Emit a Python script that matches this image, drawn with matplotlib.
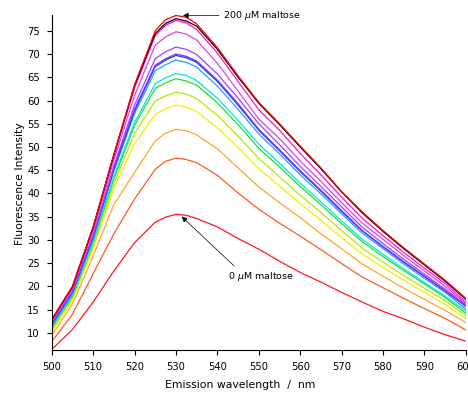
import matplotlib
matplotlib.use("Agg")
import matplotlib.pyplot as plt
import numpy as np

# emission wavelength (nm)
wl = [500, 505, 510, 515, 520, 525, 527.5, 530, 532.5, 535, 540, 545, 550,
      555, 560, 565, 570, 575, 580, 585, 590, 595, 600]

# fluorescence intensity, 0 uM -> 200 uM maltose
c00 = [6.4, 10.7, 16.6, 23.3, 29.4, 33.8, 34.9, 35.5, 35.3, 34.6, 32.8, 30.3, 28.0,
       25.4, 23.0, 20.9, 18.7, 16.6, 14.6, 13.0, 11.2, 9.6, 8.2]
c01 = [8.1, 14.0, 22.7, 31.3, 38.8, 45.2, 46.9, 47.6, 47.3, 46.6, 43.9, 40.1, 36.6,
       33.6, 30.8, 27.9, 24.9, 22.0, 19.7, 17.4, 15.2, 13.1, 10.6]
c02 = [9.4, 16.2, 26.5, 37.6, 44.5, 51.3, 53.0, 53.8, 53.5, 52.6, 49.6, 45.5, 41.4,
       38.0, 34.8, 31.3, 28.1, 24.8, 22.2, 19.6, 17.2, 14.8, 12.2]
c03 = [10.2, 17.0, 28.2, 41.1, 50.7, 57.0, 58.2, 59.0, 58.6, 57.6, 54.1, 49.9, 45.3,
       41.6, 37.8, 34.2, 30.5, 26.9, 24.1, 21.3, 18.7, 16.1, 13.1]
c04 = [10.6, 17.5, 28.7, 42.1, 52.9, 59.9, 61.0, 61.8, 61.4, 60.4, 56.8, 52.3, 47.5,
       43.6, 39.6, 35.9, 32.0, 28.2, 25.2, 22.3, 19.6, 16.9, 13.7]
c05 = [11.0, 17.9, 29.4, 43.1, 54.6, 62.6, 63.8, 64.7, 64.2, 63.3, 59.5, 54.8, 49.7,
       45.7, 41.5, 37.6, 33.5, 29.6, 26.4, 23.4, 20.5, 17.6, 14.2]
c06 = [11.2, 18.1, 29.7, 43.6, 55.3, 63.6, 64.9, 65.8, 65.4, 64.3, 60.5, 55.7, 50.6,
       46.5, 42.2, 38.2, 34.1, 30.1, 26.9, 23.8, 20.8, 17.9, 14.7]
c07 = [11.6, 18.5, 30.4, 44.8, 57.2, 66.4, 67.7, 68.7, 68.2, 67.2, 63.1, 58.1, 52.8,
       48.5, 44.0, 39.9, 35.6, 31.4, 28.1, 24.8, 21.7, 18.7, 15.1]
c08 = [11.8, 18.7, 30.6, 45.2, 57.8, 67.3, 68.7, 69.7, 69.2, 68.2, 64.1, 59.0, 53.6,
       49.2, 44.7, 40.5, 36.1, 31.9, 28.5, 25.2, 22.1, 19.0, 15.7]
c09 = [11.9, 18.8, 30.7, 45.4, 58.1, 67.6, 69.0, 70.0, 69.5, 68.5, 64.4, 59.3, 53.8,
       49.4, 44.9, 40.7, 36.3, 32.0, 28.6, 25.3, 22.2, 19.0, 15.8]
c10 = [12.1, 19.0, 31.1, 45.9, 59.0, 69.0, 70.5, 71.5, 71.0, 69.9, 65.7, 60.5, 55.0,
       50.5, 45.8, 41.5, 37.1, 32.7, 29.2, 25.8, 22.6, 19.4, 16.0]
c11 = [12.5, 19.5, 31.9, 47.1, 61.1, 71.9, 73.7, 74.8, 74.3, 73.0, 68.0, 62.0, 56.0,
       51.8, 47.0, 42.6, 38.0, 33.6, 30.1, 26.6, 23.3, 20.0, 16.3]
c12 = [12.7, 19.8, 32.5, 48.0, 62.7, 74.0, 76.2, 77.2, 76.7, 75.3, 70.2, 64.1, 58.0,
       53.6, 48.6, 44.0, 39.2, 34.6, 30.9, 27.3, 23.9, 20.6, 16.6]
c13 = [12.8, 19.9, 32.7, 48.3, 63.2, 74.4, 76.6, 77.6, 77.1, 76.0, 71.0, 65.0, 59.4,
       54.8, 50.0, 45.3, 40.3, 35.8, 31.8, 28.1, 24.6, 21.1, 17.2]
c14 = [12.9, 20.0, 32.8, 48.4, 63.4, 75.0, 77.4, 78.3, 77.9, 76.5, 71.4, 65.3, 59.6,
       55.0, 50.2, 45.5, 40.4, 36.0, 32.0, 28.3, 24.8, 21.3, 17.4]

curves = [c00, c01, c02, c03, c04, c05, c06, c07, c08, c09, c10, c11, c12, c13, c14]
colors = ['#ff1a1a', '#ff5a1f', '#ffa42c', '#f2ee00', '#b2ea00', '#22dd22',
          '#00e6f0', '#1fa0ff', '#2430ff', '#6a36ff', '#a040ff', '#e040f0',
          '#ff10dc', '#000000', '#ff0000']

fig = plt.figure(figsize=(4.68, 3.93), dpi=100)
ax = fig.add_axes([0.1105, 0.1094, 0.885, 0.8524])

for y, c in zip(curves, colors):
    ax.plot(wl, y, color=c, lw=0.9)

ax.set_xlim(500, 600)
ax.set_ylim(6.3, 78.4)
ax.set_xticks(np.arange(500, 601, 10))
ax.set_yticks(np.arange(10, 76, 5))
for s in ['top', 'right']:
    ax.spines[s].set_visible(False)
for s in ['left', 'bottom']:
    ax.spines[s].set_linewidth(0.8)
ax.tick_params(direction='out', length=3.6, width=0.8, labelsize=7.2, pad=5)

ax.set_xlabel('Emission wavelength  /  nm', fontsize=7.8)
ax.set_ylabel('Fluorescence Intensity', fontsize=7.8)
ax.xaxis.set_label_coords(0.455, -0.103)
ax.yaxis.set_label_coords(-0.0765, 0.496)
ax.xaxis.label.set_va('center')
ax.yaxis.label.set_va('center')

arr = dict(arrowstyle='-|>', color='black', lw=0.5, mutation_scale=8,
           shrinkA=1, shrinkB=0)
ax.annotate(r'200 $\mu$M maltose', xy=(531.7, 78.3), xytext=(541.4, 78.3),
            fontsize=6.8, ha='left', va='center', arrowprops=arr,
            annotation_clip=False)
ax.annotate(r'0 $\mu$M maltose', xy=(531.4, 35.0), xytext=(542.6, 22.2),
            fontsize=6.8, ha='left', va='center',
            arrowprops=dict(arr, relpos=(0.15, 1.0)),
            annotation_clip=False)

fig.savefig('out.png', dpi=100)
